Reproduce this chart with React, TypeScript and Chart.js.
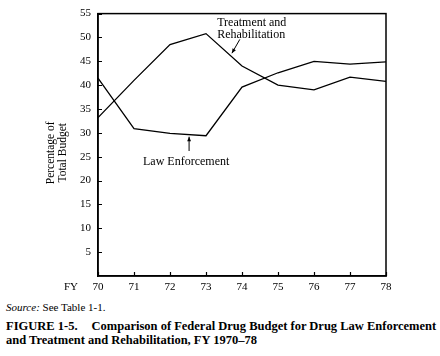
import React, { useEffect, useRef } from "react";
import { Chart, registerables } from "chart.js";

Chart.register(...registerables);

// ---- data ----
const years = [70, 71, 72, 73, 74, 75, 76, 77, 78];
const treatmentRehab = [33.2, 41.0, 48.5, 50.8, 44.0, 40.0, 39.0, 41.7, 40.8];
const lawEnforcement = [41.5, 30.9, 29.9, 29.4, 39.6, 42.6, 45.0, 44.4, 44.9];
const yTickValues = [5, 10, 15, 20, 25, 30, 35, 40, 45, 50, 55];
const xTickLabels = ["70", "71", "72", "73", "74", "75", "76", "77", "78"];
const yTitle = ["Percentage of", "Total Budget"];
const treatmentLabel = ["Treatment and", "Rehabilitation"];
const lawLabel = "Law Enforcement";

const FONT = "'Liberation Serif', 'Times New Roman', serif";

const framePlugin = {
  id: "framePlugin",
  afterDraw(chart: any) {
    const { ctx, chartArea: a, scales } = chart;
    const xs = scales.x;
    const ys = scales.y;
    ctx.save();
    ctx.strokeStyle = "#000";
    ctx.lineWidth = 1.5;
    ctx.strokeRect(a.left, a.top, a.right - a.left, a.bottom - a.top);
    // inner ticks
    ctx.lineWidth = 1.2;
    ctx.beginPath();
    yTickValues.forEach((v) => {
      const py = Math.round(ys.getPixelForValue(v)) + 0.5;
      ctx.moveTo(a.left, py);
      ctx.lineTo(a.left + 4, py);
    });
    years.forEach((v) => {
      const px = Math.round(xs.getPixelForValue(v)) + 0.5;
      ctx.moveTo(px, a.bottom);
      ctx.lineTo(px, a.bottom - 4);
    });
    ctx.stroke();

    ctx.fillStyle = "#000";
    ctx.textBaseline = "middle";
    // FY label
    ctx.font = `11px ${FONT}`;
    ctx.textAlign = "center";
    ctx.fillText("FY", a.left - 27, a.bottom + 11);

    // y title
    ctx.save();
    ctx.font = `11.5px ${FONT}`;
    ctx.translate(a.left - 47, (a.top + a.bottom) / 2 + 8);
    ctx.rotate(-Math.PI / 2);
    ctx.textAlign = "center";
    ctx.fillText(yTitle[0], 0, 0);
    ctx.fillText(yTitle[1], 0, 12);
    ctx.restore();

    // annotations
    ctx.font = `12px ${FONT}`;
    ctx.textAlign = "left";
    const tx = xs.getPixelForValue(73.31);
    ctx.fillText(treatmentLabel[0], tx, ys.getPixelForValue(53.1));
    ctx.fillText(treatmentLabel[1], tx, ys.getPixelForValue(50.6));
    const lx = xs.getPixelForValue(71.25);
    ctx.fillText(lawLabel, lx, ys.getPixelForValue(23.9));

    const arrow = (x1: number, y1: number, x2: number, y2: number) => {
      const p1x = xs.getPixelForValue(x1), p1y = ys.getPixelForValue(y1);
      const p2x = xs.getPixelForValue(x2), p2y = ys.getPixelForValue(y2);
      ctx.lineWidth = 1;
      ctx.beginPath();
      ctx.moveTo(p1x, p1y);
      ctx.lineTo(p2x, p2y);
      ctx.stroke();
      const ang = Math.atan2(p2y - p1y, p2x - p1x);
      const len = 5, w = 0.4;
      ctx.beginPath();
      ctx.moveTo(p2x, p2y);
      ctx.lineTo(p2x - len * Math.cos(ang - w), p2y - len * Math.sin(ang - w));
      ctx.lineTo(p2x - len * Math.cos(ang + w), p2y - len * Math.sin(ang + w));
      ctx.closePath();
      ctx.fill();
    };
    arrow(73.94, 49.6, 73.72, 46.7);
    arrow(72.53, 26.2, 72.53, 29.2);
    ctx.restore();
  },
};

export default function App() {
  const ref = useRef<HTMLCanvasElement>(null);
  useEffect(() => {
    if (!ref.current) return;
    const chart = new Chart(ref.current, {
      type: "line",
      data: {
        datasets: [
          {
            label: "Treatment and Rehabilitation",
            data: years.map((y, i) => ({ x: y, y: treatmentRehab[i] })),
            borderColor: "#000",
            borderWidth: 1.3,
            pointRadius: 0,
            tension: 0,
            fill: false,
          },
          {
            label: "Law Enforcement",
            data: years.map((y, i) => ({ x: y, y: lawEnforcement[i] })),
            borderColor: "#000",
            borderWidth: 1.3,
            pointRadius: 0,
            tension: 0,
            fill: false,
          },
        ],
      },
      options: {
        animation: false,
        responsive: false,
        devicePixelRatio: 1,
        layout: { padding: { left: 0, right: 54, top: 12, bottom: 0 } },
        plugins: { legend: { display: false }, tooltip: { enabled: false } },
        scales: {
          x: {
            type: "linear",
            min: 70,
            max: 78,
            afterFit: (s: any) => { s.height = 24; },
            afterBuildTicks: (s: any) => { s.ticks = years.map((v) => ({ value: v })); },
            ticks: {
              callback: (v: any) => xTickLabels[years.indexOf(Number(v))] ?? "",
              font: { family: FONT, size: 11 },
              color: "#000",
              padding: 5,
              maxRotation: 0,
            },
            grid: { display: false, drawTicks: false },
            border: { display: true, color: "#000", width: 1.5 },
          },
          y: {
            min: 0,
            max: 55,
            afterFit: (s: any) => { s.width = 98; },
            afterBuildTicks: (s: any) => { s.ticks = yTickValues.map((v) => ({ value: v })); },
            ticks: {
              callback: (v: any) => String(v),
              font: { family: FONT, size: 11 },
              color: "#000",
              padding: 7,
            },
            grid: { display: false, drawTicks: false },
            border: { display: true, color: "#000", width: 1.5 },
          },
        },
      },
      plugins: [framePlugin],
    } as any);
    return () => chart.destroy();
  }, []);

  return (
    <div style={{ position: "absolute", left: 0, top: 0, width: 440, height: 356, background: "#fff", fontFamily: FONT, color: "#000" }}>
      <canvas ref={ref} width={440} height={300} style={{ display: "block", width: 440, height: 300 }} />
      <div style={{ position: "absolute", left: 6, top: 301, fontSize: 11, lineHeight: "13px", whiteSpace: "nowrap" }}>
        <i>Source:</i> See Table 1-1.
      </div>
      <div style={{ position: "absolute", left: 6, top: 319, width: 434, fontSize: 12.5, lineHeight: "14px", fontWeight: "bold", whiteSpace: "nowrap" }}>
        <span>FIGURE 1-5.</span>
        <span style={{ marginLeft: 14 }}>Comparison of Federal Drug Budget for Drug Law Enforcement</span>
        <br />
        <span>and Treatment and Rehabilitation, FY 1970–78</span>
      </div>
    </div>
  );
}
